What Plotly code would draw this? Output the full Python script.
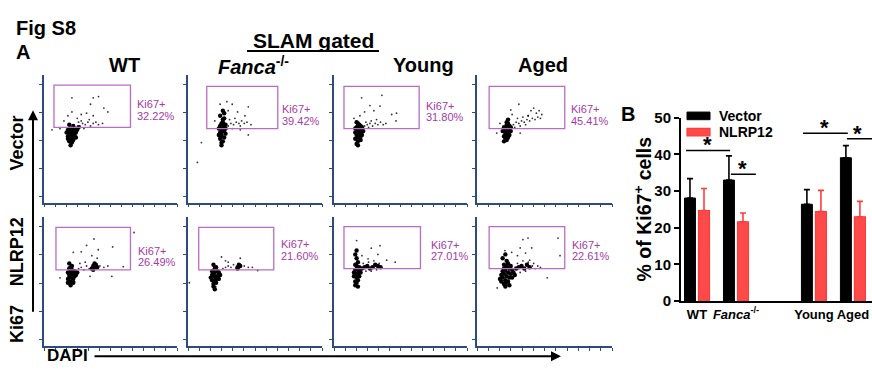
import plotly.graph_objects as go

W, H = 872, 372
def px(x): return x / W
def py(y): return 1 - y / H

FONT = "Liberation Sans, Arial, sans-serif"
PURPLE_TXT = "#a53aa8"
PURPLE_LINE = "#bb6cc2"
AXIS_BLUE = "#2f4a80"
RED = "#ff3c3c"

# ---------------- Panel A data ----------------
col_titles = ["WT", "<i>Fanca</i><sup>-/-</sup>", "Young", "Aged"]
row_titles = ["Vector", "NLRP12"]
ki67_percent = [["32.22%", "39.42%", "31.80%", "45.41%"],
                ["26.49%", "21.60%", "27.01%", "22.61%"]]

# gates (x0, x1, y0, y1) in DAPI / Ki67 units (0-100)
gates_vector = [(7.5, 65, 59, 92), (14, 67, 58, 91), (7.5, 64, 58, 91), (9, 65, 58, 91)]
gates_nlrp12 = [(9, 65, 59, 92), (8, 64, 59, 92), (7.5, 65, 60, 92.5), (9, 65, 60, 92.5)]

# events (DAPI, Ki67): dense core and sparse events
wt_vector_core = [(18,52),(19,55),(20,50),(21,53),(22,56),(20,58),(19,48),(21,47),(23,52),(22,60),(18,57),(24,55),
                  (20,54),(21,51),(19,61),(17,55),(23,58),(25,57),(22,49),(20,45),(24,51),(26,59),(18,50),(21,57),(23,54)]
wt_vector_sparse = [(27,60),(29,62),(31,61),(33,63),(35,60),(30,58),(37,62),(39,63),(41,61),(44,62),(28,64),(34,65),(26,63),
                    (21,82),(37,82),(41,83),(35,77),(45,74),(48,71),(28,69),(21,71),(37,68),(6,57),(25,66),(32,70),(18,68),
                    (15,64),(12,58)]
fanca_vector_core = [(24,50),(25,53),(26,56),(27,59),(25,62),(26,65),(24,68),(27,70),(23,58),(28,54),(26,48),(25,45),
                     (27,51),(24,60),(26,63),(28,61),(25,57),(23,53),(27,66),(26,72),(24,55),(28,58),(25,47),(26,60),(27,56)]
fanca_vector_sparse = [(30,60),(32,62),(34,61),(36,63),(38,62),(40,64),(42,62),(44,63),(47,61),(31,65),(35,66),(39,60),(33,58),
                       (24,77),(33,77),(45,75),(37,71),(42.5,68),(10,47),(7,31.5),(45,53),(39,57),(30,72),(20,64),(29,79)]
young_vector_core = [(16,50),(17,53),(18,56),(19,52),(20,55),(18,48),(17,59),(19,61),(21,57),(16,55),(18,51),(20,49),
                     (17,46),(19,58),(21,53),(18,62),(20,60),(16,58),(19,54),(22,56),(18,45),(20,52),(17,63),(21,59)]
young_vector_sparse = [(23,60),(25,61),(27,62),(29,60),(31,62),(33,61),(35,63),(37,61),(39,62),(24,63),(28,64),(32,65),(26,59),
                       (20.8,82),(36,84),(34.6,75.6),(43.4,69),(47,70),(46.6,64),(30,72),(23,71),(19.5,68),(27,76),(15,66)]
aged_vector_core = [(20,52),(21,55),(22,58),(23,54),(24,57),(21,50),(22,61),(20,59),(23,62),(25,56),(22,49),(21,53),
                    (19,56),(24,60),(23,51),(22,63),(20,48),(25,59),(21,57),(23,65),(24,53),(22,55)]
aged_vector_sparse = [(27,61),(29,63),(31,62),(33,64),(35,63),(37,65),(39,64),(41,66),(43,65),(45,67),(47,66),(44,70),
                      (46,72),(48,69),(30,66),(34,67),(38,68),(28,59),(32,60),(36,61),
                      (31,77),(25,72.6),(37.8,68),(17,62),(14.6,54.5),(32,54.5),(26,69),(40,72),(42,74)]
wt_nlrp12_core = [(18,52),(19,55),(20,58),(21,53),(22,56),(20,50),(19,60),(21,62),(22,49),(23,54),(18,57),(20,47),
                  (21,59),(19,64),(22,52),(23,58),(24,55),(20,61),(18,49),(21,56),(25,57),(19,53),
                  (36,60),(37,62),(38,61),(39,63),(37,59),(38,64),(40,61)]
wt_nlrp12_sparse = [(26,60),(28,61),(30,59),(32,62),(34,60),(42,62),(45,61),(48,62),(27,64),(31,65),
                    (37.6,83),(40.8,74.6),(51.6,76.8),(67.7,88),(32,78),(28,73),(22,72.6),(51,54),(59.6,61.5),(12,52.8),
                    (34.6,54),(23,50),(36,70),(40,68)]
fanca_nlrp12_core = [(19,48),(20,51),(20,54),(20,57),(20,60),(19,63),(21,52),(18,55),(22,58),(21,49),(18,51),(22,54),
                     (23,57),(17,53),(21,61),(19,46),(20,44),(23,52),(24,55),(18,58),
                     (37,61),(38,63),(39,62),(37,60)]
fanca_nlrp12_sparse = [(26,60),(28,61),(30,62),(32,61),(34,63),(42,62),(45,61),(48,61),
                       (25,69),(39,68),(30,65),(20.7,46),(52,58.5),(1,49),(28,66)]
young_nlrp12_core = [(16,50),(17,53),(17,56),(16,59),(17,62),(18,65),(17,68),(16,71),(18,55),(19,58),(15,54),(18,51),
                     (16,47),(19,61),(17,49),(18,60),(15,57),(19,54),(17,74),(16,63),(20,57),(18,46),
                     (21,60),(23,61),(25,62),(27,60),(29,61),(31,63),(33,62),(35,61)]
young_nlrp12_sparse = [(22,64),(26,65),(30,66),(34,64),(24,58),(28,58),(32,59),
                       (17,81.7),(28,75.8),(34.6,77.8),(33,71),(39.6,66.5),(46,65),(25.6,67.6),(21,70)]
aged_nlrp12_core = [(18,50),(19,53),(20,56),(21,59),(22,62),(20,48),(21,51),(22,54),(23,57),(24,60),(19,58),(18,55),
                    (23,50),(24,53),(25,56),(26,59),(21,46),(20,63),(22,66),(19,68),(21,71),(23,64),(25,62),(27,57),
                    (26,53),(17,52),(20,60),(22,49),(24,47),(28,55),(29,60),(31,61),(33,62),(35,60),(37,63),(39,61)]
aged_nlrp12_sparse = [(41,62),(43,60),(45,62),(47,61),(30,64),(34,66),(38,65),(42,64),(36,58),(32,57),
                      (37.8,83.7),(34,82.5),(32,76),(40.5,76),(39,66.5),(60,83.7),(61.5,70),(52,52.8),(25.7,72.6),
                      (20.7,74),(36,72),(30,70),(15,45)]

events_core = [[wt_vector_core, fanca_vector_core, young_vector_core, aged_vector_core],
               [wt_nlrp12_core, fanca_nlrp12_core, young_nlrp12_core, aged_nlrp12_core]]
events_sparse = [[wt_vector_sparse, fanca_vector_sparse, young_vector_sparse, aged_vector_sparse],
                 [wt_nlrp12_sparse, fanca_nlrp12_sparse, young_nlrp12_sparse, aged_nlrp12_sparse]]
gates = [gates_vector, gates_nlrp12]

# ---------------- Panel B data ----------------
groups = ["WT", "<i>Fanca</i><sup>-/-</sup>", "Young", "Aged"]
group_pos = [0, 1, 3, 4]
vector_mean = [28.1, 33.0, 26.4, 39.1]
vector_err = [5.3, 6.6, 4.0, 3.3]
nlrp12_mean = [24.7, 21.6, 24.4, 23.0]
nlrp12_err = [6.0, 2.4, 5.8, 4.2]
# significance brackets: (x0, x1, y, star_x)
sig_brackets = [(-0.28, 0.85, 41.1, 0.28), (0.87, 1.51, 34.6, 1.18),
                (2.72, 3.87, 45.8, 3.28), (3.85, 4.7, 44.3, 4.13)]

# ---------------- layout geometry ----------------
col_px = [(44, 177), (188, 322), (334, 467), (477, 612)]
row_px = [(69, 203), (218, 353)]
label_x = [[68.4, 69, 67.7, 68], [69, 68, 71.4, 69]]
label_y = [[77, 73, 76, 73], [74, 79, 78.5, 78.5]]

fig = go.Figure()
layout = dict(width=W, height=H, margin=dict(l=0, r=0, t=0, b=0, pad=0),
              paper_bgcolor="white", plot_bgcolor="white",
              font=dict(family=FONT, color="black"), showlegend=False)
shapes, annots = [], []

for r in range(2):
    for c in range(4):
        idx = r * 4 + c + 1
        xa = "x" if idx == 1 else f"x{idx}"
        ya = "y" if idx == 1 else f"y{idx}"
        xkey = "xaxis" if idx == 1 else f"xaxis{idx}"
        ykey = "yaxis" if idx == 1 else f"yaxis{idx}"
        x0p, x1p = col_px[c]
        y0p, y1p = row_px[r]
        common = dict(showline=True, linecolor=AXIS_BLUE, linewidth=1.5, ticks="outside",
                      ticklen=3, tickcolor=AXIS_BLUE, tickwidth=1, showgrid=False,
                      zeroline=False, showticklabels=False, range=[0, 100], fixedrange=True)
        layout[xkey] = dict(domain=[px(x0p), px(x1p)], anchor=ya, tick0=0, dtick=100 / 12, **common)
        layout[ykey] = dict(domain=[py(y1p), py(y0p)], anchor=xa, tick0=4.7, dtick=22, **common)
        sp = events_sparse[r][c]
        fig.add_trace(go.Scatter(x=[p[0] for p in sp], y=[p[1] for p in sp], mode="markers",
                                 marker=dict(size=1.8, color="black", opacity=0.8),
                                 xaxis=xa, yaxis=ya, hoverinfo="skip"))
        co = events_core[r][c]
        fig.add_trace(go.Scatter(x=[p[0] for p in co], y=[p[1] for p in co], mode="markers",
                                 marker=dict(size=4.4, color="black", opacity=1,
                                             line=dict(width=0)),
                                 xaxis=xa, yaxis=ya, hoverinfo="skip"))
        g = gates[r][c]
        shapes.append(dict(type="rect", xref=xa, yref=ya, x0=g[0], x1=g[1], y0=g[2], y1=g[3],
                           line=dict(color=PURPLE_LINE, width=1.3)))
        annots.append(dict(x=label_x[r][c], y=label_y[r][c], xref=xa, yref=ya, text="Ki67+",
                           showarrow=False, xanchor="left", yanchor="middle",
                           font=dict(size=11, color=PURPLE_TXT)))
        annots.append(dict(x=label_x[r][c], y=label_y[r][c] - 9, xref=xa, yref=ya,
                           text=ki67_percent[r][c], showarrow=False, xanchor="left",
                           yanchor="middle", font=dict(size=11, color=PURPLE_TXT)))

# column and row titles
col_cx = [124, 253, 423, 543]
for c in range(4):
    annots.append(dict(x=px(col_cx[c]), y=py(59), xref="paper", yref="paper",
                       text=f"<b>{col_titles[c]}</b>", showarrow=False,
                       font=dict(size=20), xanchor="center", yanchor="middle"))
for txt, yc in [(row_titles[0], 141), (row_titles[1], 255), ("Ki67", 330)]:
    annots.append(dict(x=px(17), y=py(yc), xref="paper", yref="paper", text=f"<b>{txt}</b>",
                       textangle=-90, showarrow=False, font=dict(size=18),
                       xanchor="center", yanchor="middle"))
annots += [
    dict(x=px(14), y=py(20), xref="paper", yref="paper", text="<b>Fig S8</b>", showarrow=False,
         xanchor="left", yanchor="middle", font=dict(size=20)),
    dict(x=px(14), y=py(45), xref="paper", yref="paper", text="<b>A</b>", showarrow=False,
         xanchor="left", yanchor="middle", font=dict(size=20)),
    dict(x=px(313), y=py(33), xref="paper", yref="paper", text="<b>SLAM gated</b>", showarrow=False,
         xanchor="center", yanchor="middle", font=dict(size=21)),
    dict(x=px(45), y=py(363), xref="paper", yref="paper", text="<b>DAPI</b>", showarrow=False,
         xanchor="left", yanchor="middle", font=dict(size=17)),
    dict(x=px(33), y=py(106), xref="paper", yref="paper", ax=0, ay=203, axref="pixel", ayref="pixel",
         text="", showarrow=True, arrowhead=2, arrowsize=1, arrowwidth=2, arrowcolor="black"),
    dict(x=px(561), y=py(364), xref="paper", yref="paper", ax=-468, ay=0, axref="pixel", ayref="pixel",
         text="", showarrow=True, arrowhead=2, arrowsize=1, arrowwidth=2, arrowcolor="black"),
    dict(x=px(628), y=py(110), xref="paper", yref="paper", text="<b>B</b>", showarrow=False,
         xanchor="center", yanchor="middle", font=dict(size=20)),
    dict(x=px(643), y=py(210), xref="paper", yref="paper", text="<b>% of Ki67<sup>+</sup> cells</b>",
         textangle=-90, showarrow=False, xanchor="center", yanchor="middle", font=dict(size=19.5)),
]
shapes.append(dict(type="line", xref="paper", yref="paper", x0=px(247), x1=px(379),
                   y0=py(44), y1=py(44), line=dict(color="black", width=2)))

# ---------------- bar chart ----------------
fig.add_trace(go.Bar(x=group_pos, y=vector_mean, name="Vector", xaxis="x9", yaxis="y9",
                     marker=dict(color="black", line=dict(color="black", width=1)),
                     error_y=dict(type="data", array=vector_err, arrayminus=[0] * 4, symmetric=False,
                                  color="black", thickness=1.6, width=3)))
fig.add_trace(go.Bar(x=group_pos, y=nlrp12_mean, name="NLRP12", xaxis="x9", yaxis="y9",
                     marker=dict(color="#ff4a4a", line=dict(color=RED, width=1.2)),
                     error_y=dict(type="data", array=nlrp12_err, arrayminus=[0] * 4, symmetric=False,
                                  color=RED, thickness=1.6, width=3)))
layout["barmode"] = "group"
layout["bargap"] = 0.28
layout["bargroupgap"] = 0.22
layout["xaxis9"] = dict(domain=[px(681), 1.0], anchor="y9", range=[-0.41, 4.49], showline=True,
                        linecolor="black", linewidth=2, ticks="", tickvals=group_pos,
                        ticktext=[f"<b>{g}</b>" for g in groups], tickfont=dict(size=13),
                        showgrid=False, zeroline=False, fixedrange=True)
layout["yaxis9"] = dict(domain=[py(306), py(114)], anchor="x9", range=[0, 50], dtick=10,
                        showline=True, linecolor="black", linewidth=2, ticks="outside", ticklen=5,
                        tickwidth=2, tickcolor="black", tickfont=dict(size=15, weight="bold"),
                        showgrid=False, zeroline=False, fixedrange=True)

for x0, x1, yv, sx in sig_brackets:
    shapes.append(dict(type="line", xref="x9", yref="y9", x0=x0, x1=x1, y0=yv, y1=yv,
                       line=dict(color="black", width=1.5)))
    annots.append(dict(x=sx, y=yv, xref="x9", yref="y9", text="<b>*</b>", showarrow=False,
                       xanchor="center", yanchor="bottom", yshift=-9, font=dict(size=22)))

# legend drawn as swatches
shapes.append(dict(type="rect", xref="paper", yref="paper", x0=px(687), x1=px(710),
                   y0=py(116), y1=py(108), fillcolor="black", line=dict(color="black", width=1)))
shapes.append(dict(type="rect", xref="paper", yref="paper", x0=px(687), x1=px(710),
                   y0=py(133), y1=py(125), fillcolor="#ff4a4a", line=dict(color=RED, width=1.2)))
annots.append(dict(x=px(717), y=py(112), xref="paper", yref="paper", text="<b>Vector</b>",
                   showarrow=False, xanchor="left", yanchor="middle", font=dict(size=14)))
annots.append(dict(x=px(717), y=py(129), xref="paper", yref="paper", text="<b>NLRP12</b>",
                   showarrow=False, xanchor="left", yanchor="middle", font=dict(size=14)))

layout["shapes"] = shapes
layout["annotations"] = annots
fig.update_layout(**layout)
fig.write_html("out.html", config={"displayModeBar": False},
               post_script="document.body.style.margin='0px';document.body.style.overflow='hidden';")
